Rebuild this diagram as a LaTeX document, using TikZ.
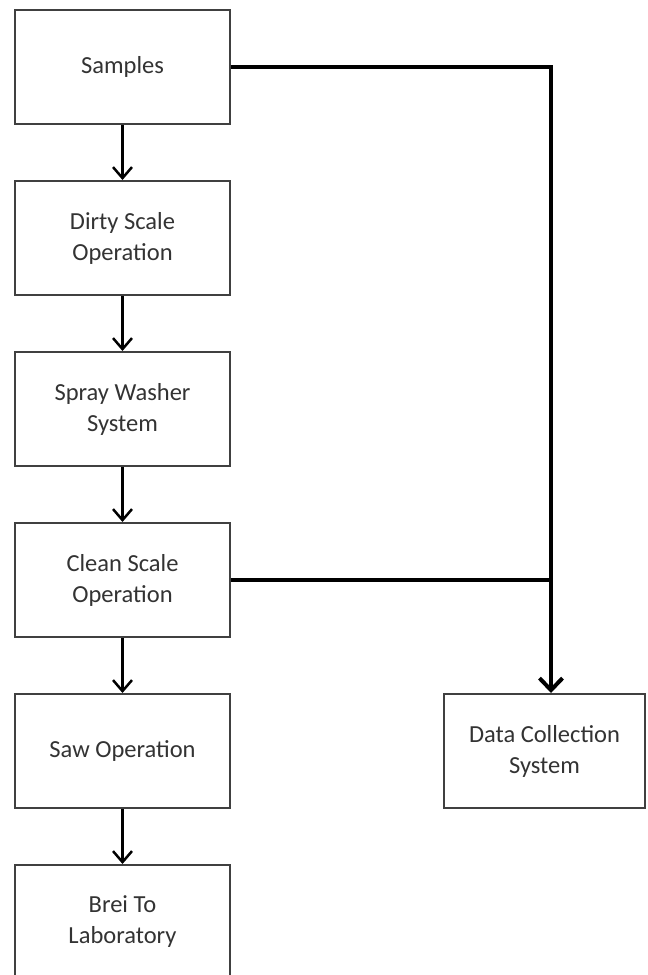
\documentclass[tikz,border=0pt]{standalone}
\usepackage{fontspec}
\setmainfont{Carlito}
\usetikzlibrary{arrows.meta}
\begin{document}
\begin{tikzpicture}[x=1pt,y=-1pt,
  box/.style={draw=black!75, line width=2pt, minimum width=215pt, minimum height=114pt,
    align=center, inner sep=0pt, font=\fontsize{24.5}{31}\selectfont, text=black!80},
  flow/.style={line width=2.5pt, -{Straight Barb[length=11pt,width=19pt,line width=2.5pt]}},
  feed/.style={line width=4pt},
  feedarrow/.style={line width=4pt, -{Straight Barb[length=12pt,width=23pt,line width=4pt]}}]
\useasboundingbox[fill=white] (0,0) rectangle (648,975);
\node[box] (samples) at (122.5,67) {Samples};
\node[box] (dirty) at (122.5,238) {Dirty Scale\\Operation};
\node[box] (spray) at (122.5,409) {Spray Washer\\System};
\node[box] (clean) at (122.5,580) {Clean Scale\\Operation};
\node[box] (saw) at (122.5,751) {Saw Operation};
\node[box] (brei) at (122.5,922) {Brei To\\Laboratory};
\node[box, minimum width=201pt] (data) at (544.5,751) {Data Collection\\System};
\coordinate (j) at (551,580);
\draw[flow] (samples) -- (dirty);
\draw[flow] (dirty) -- (spray);
\draw[flow] (spray) -- (clean);
\draw[flow] (clean) -- (saw);
\draw[flow] (saw) -- (brei);
\draw[feedarrow] (samples.east) -| ([xshift=6.5pt]data.north);
\draw[feed] (clean.east) -- (j);
\end{tikzpicture}
\end{document}
